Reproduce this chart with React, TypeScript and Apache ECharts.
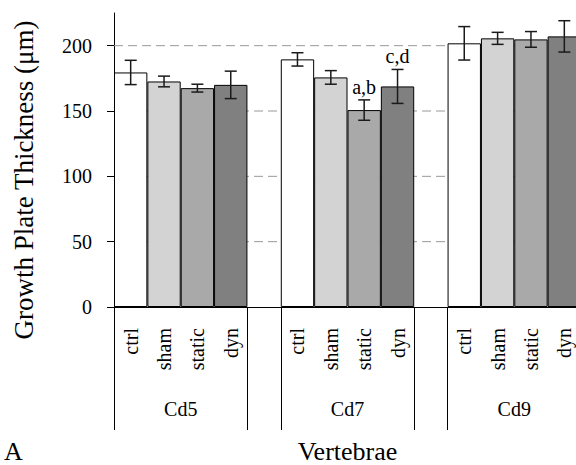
import React, { useEffect, useRef } from 'react';
import * as echarts from 'echarts';

const groups = ['Cd5', 'Cd7', 'Cd9'];
const treatments = ['ctrl', 'sham', 'static', 'dyn'];
const cd5Mean = [179.5, 172.6, 167.5, 170.0];
const cd7Mean = [189.5, 175.7, 150.7, 168.8];
const cd9Mean = [201.8, 205.6, 204.8, 207.1];
const cd5Err = [9.3, 4.1, 3.0, 10.5];
const cd7Err = [5.1, 5.2, 7.8, 13.0];
const cd9Err = [12.8, 4.6, 6.0, 12.0];
const cd5Notes = ['', '', '', ''];
const cd7Notes = ['', '', 'a,b', 'c,d'];
const cd9Notes = ['', '', '', ''];
const yTicks = [0, 50, 100, 150, 200];
const gridValues = [50, 100, 150, 200];

const fills = ['#ffffff', '#d3d3d3', '#a9a9a9', '#808080'];
const FONT = 'Liberation Serif';

export default function App() {
  const ref = useRef<HTMLDivElement>(null);
  useEffect(() => {
    document.body.style.margin = '0';
    if (!ref.current) return;
    const chart = echarts.init(ref.current, undefined, { renderer: 'svg' });

    const means = [cd5Mean, cd7Mean, cd9Mean];
    const errs = [cd5Err, cd7Err, cd9Err];
    const notesByGroup = [cd5Notes, cd7Notes, cd9Notes];

    const categories: string[] = [];
    const barData: any[] = [];
    const errData: any[] = [];
    const notes: string[] = [];
    const boundaries = new Set<number>();
    const groupCenters: number[] = [];
    groups.forEach((g, gi) => {
      if (gi > 0) {
        boundaries.add(categories.length);
        categories.push('');
        barData.push('-');
      }
      boundaries.add(categories.length);
      groupCenters.push(categories.length + treatments.length / 2);
      treatments.forEach((t, ti) => {
        const idx = categories.length;
        categories.push(t);
        const m = means[gi][ti];
        const e = errs[gi][ti];
        barData.push({ value: m, itemStyle: { color: fills[ti] } });
        errData.push([idx, m - e, m + e]);
        notes.push(notesByGroup[gi][ti]);
      });
    });

    chart.setOption({
      animation: false,
      textStyle: { fontFamily: FONT },
      grid: {
        left: 114,
        top: 13,
        right: -5,
        bottom: 158,
        containLabel: false,
        outerBoundsMode: 'none',
      },
      graphic: [
        {
          type: 'text',
          left: 4,
          top: 438,
          style: { text: 'A', fontSize: 26, fontFamily: FONT, fill: '#000' },
        },
      ],
      xAxis: [
        {
          type: 'category',
          data: categories,
          boundaryGap: true,
          axisLine: { show: true, lineStyle: { color: '#000', width: 1 } },
          axisTick: {
            show: true,
            length: 123,
            interval: (i: number) => boundaries.has(i),
            lineStyle: { color: '#000', width: 1 },
          },
          axisLabel: {
            interval: 0,
            rotate: 90,
            margin: 21,
            fontSize: 20,
            fontFamily: FONT,
            color: '#000',
          },
          name: 'Vertebrae',
          nameLocation: 'middle',
          nameGap: 131,
          nameTextStyle: { fontSize: 26, fontFamily: FONT, color: '#000' },
        },
        {
          type: 'value',
          position: 'bottom',
          min: 0,
          max: categories.length,
          axisLine: { show: false },
          axisTick: { show: false },
          splitLine: { show: false },
          axisLabel: {
            customValues: groupCenters,
            formatter: (v: number) => groups[groupCenters.indexOf(v)] ?? '',
            margin: 92,
            fontSize: 20,
            fontFamily: FONT,
            color: '#000',
          },
        },
      ],
      yAxis: {
        type: 'value',
        min: 0,
        max: 225,
        axisLine: { show: true, lineStyle: { color: '#000', width: 1 } },
        axisTick: { show: true, customValues: yTicks, length: 7, lineStyle: { color: '#000' } },
        axisLabel: { customValues: yTicks, margin: 22, fontSize: 20, fontFamily: FONT, color: '#000' },
        splitLine: { show: false },
        name: 'Growth Plate Thickness (μm)',
        nameLocation: 'middle',
        nameRotate: 90,
        nameGap: 77,
        nameTextStyle: { fontSize: 27, fontFamily: FONT, color: '#000', padding: [0, 40, 0, 0] },
      },
      series: [
        {
          type: 'custom',
          z: 1,
          silent: true,
          data: gridValues.map((v) => [v]),
          encode: { y: 0 },
          renderItem: (params: any, api: any) => {
            const cs = params.coordSys;
            const y = api.coord([0, api.value(0)])[1];
            return {
              type: 'line',
              shape: { x1: cs.x, y1: y, x2: cs.x + cs.width, y2: y },
              style: { stroke: '#999', lineWidth: 1, lineDash: [9, 5] },
            };
          },
        },
        {
          type: 'bar',
          z: 2,
          barWidth: '100%',
          data: barData,
          itemStyle: { borderColor: '#000', borderWidth: 1 },
        },
        {
          type: 'custom',
          z: 3,
          silent: true,
          data: errData,
          encode: { x: 0, y: [1, 2] },
          renderItem: (params: any, api: any) => {
            const x = api.value(0);
            const lo = api.coord([x, api.value(1)]);
            const hi = api.coord([x, api.value(2)]);
            const half = 6;
            const st = { stroke: '#1a1a1a', lineWidth: 1.5 };
            const children: any[] = [
              { type: 'line', shape: { x1: hi[0], y1: hi[1], x2: lo[0], y2: lo[1] }, style: st },
              { type: 'line', shape: { x1: hi[0] - half, y1: hi[1], x2: hi[0] + half, y2: hi[1] }, style: st },
              { type: 'line', shape: { x1: lo[0] - half, y1: lo[1], x2: lo[0] + half, y2: lo[1] }, style: st },
            ];
            const note = notes[params.dataIndex];
            if (note) {
              children.push({
                type: 'text',
                style: {
                  text: note,
                  x: hi[0],
                  y: hi[1] - 3,
                  align: 'center',
                  verticalAlign: 'bottom',
                  fontSize: 20,
                  fontFamily: FONT,
                  fill: '#000',
                },
              });
            }
            return { type: 'group', children };
          },
        },
      ],
    });
    return () => chart.dispose();
  }, []);
  return <div ref={ref} style={{ width: 576, height: 465 }} />;
}
